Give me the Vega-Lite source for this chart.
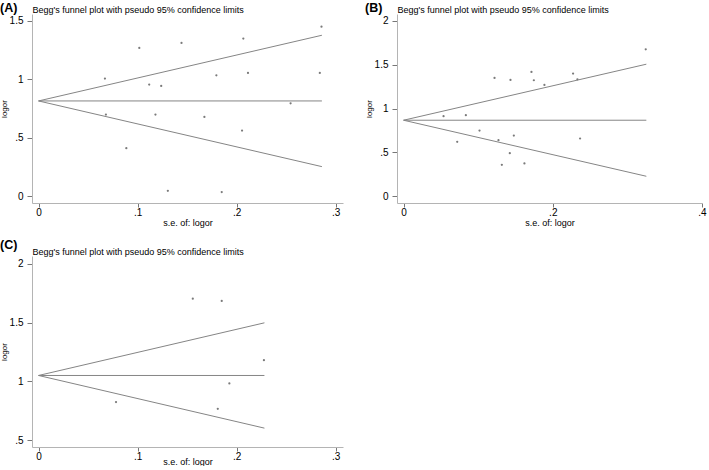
{
  "$schema": "https://vega.github.io/schema/vega-lite/v6.json",
  "padding": {"left": 0, "top": 1, "right": 0, "bottom": 0},
  "background": "white",
  "config": {
    "font": "Liberation Sans",
    "view": {"stroke": null},
    "axis": {
      "grid": false,
      "domainColor": "#b4b4b4",
      "tickColor": "#777777",
      "tickSize": 4,
      "labelFontSize": 10,
      "labelColor": "#000000",
      "labelPadding": 0,
      "labelFlush": false,
      "titleFontWeight": "normal",
      "titleColor": "#000000"
    },
    "axisY": {"tickSize": 5, "labelPadding": 4, "titlePadding": 1},
    "title": {"fontSize": 12.5, "fontWeight": "bold", "anchor": "start", "frame": "bounds", "color": "#000000"}
  },
  "datasets": {
    "a_pts": [
      {"se": 0.067, "logor": 1.006}, {"se": 0.068, "logor": 0.699}, {"se": 0.0886, "logor": 0.412},
      {"se": 0.1017, "logor": 1.267}, {"se": 0.1117, "logor": 0.955}, {"se": 0.118, "logor": 0.699},
      {"se": 0.1238, "logor": 0.943}, {"se": 0.1305, "logor": 0.048}, {"se": 0.1443, "logor": 1.31},
      {"se": 0.1674, "logor": 0.679}, {"se": 0.1795, "logor": 1.034}, {"se": 0.1849, "logor": 0.037},
      {"se": 0.2054, "logor": 0.5625}, {"se": 0.2067, "logor": 1.347}, {"se": 0.2114, "logor": 1.054},
      {"se": 0.2544, "logor": 0.795}, {"se": 0.2839, "logor": 1.054}, {"se": 0.2856, "logor": 1.449}
    ],
    "a_lines": [
      {"line": "upper", "se": 0, "logor": 0.815}, {"line": "upper", "se": 0.286, "logor": 1.3756},
      {"line": "center", "se": 0, "logor": 0.815}, {"line": "center", "se": 0.286, "logor": 0.815},
      {"line": "lower", "se": 0, "logor": 0.815}, {"line": "lower", "se": 0.286, "logor": 0.2544}
    ],
    "b_pts": [
      {"se": 0.0536, "logor": 0.913}, {"se": 0.0719, "logor": 0.621}, {"se": 0.0835, "logor": 0.924},
      {"se": 0.1018, "logor": 0.75}, {"se": 0.1219, "logor": 1.348}, {"se": 0.1272, "logor": 0.64},
      {"se": 0.1317, "logor": 0.36}, {"se": 0.1424, "logor": 0.492}, {"se": 0.1433, "logor": 1.326},
      {"se": 0.1478, "logor": 0.693}, {"se": 0.1714, "logor": 1.417}, {"se": 0.162, "logor": 0.375},
      {"se": 0.1746, "logor": 1.322}, {"se": 0.1888, "logor": 1.269}, {"se": 0.2272, "logor": 1.398},
      {"se": 0.233, "logor": 1.333}, {"se": 0.2366, "logor": 0.659}, {"se": 0.3246, "logor": 1.674}
    ],
    "b_lines": [
      {"line": "upper", "se": 0, "logor": 0.867}, {"line": "upper", "se": 0.3254, "logor": 1.5048},
      {"line": "center", "se": 0, "logor": 0.867}, {"line": "center", "se": 0.3254, "logor": 0.867},
      {"line": "lower", "se": 0, "logor": 0.867}, {"line": "lower", "se": 0.3254, "logor": 0.2292}
    ],
    "c_pts": [
      {"se": 0.0782, "logor": 0.825}, {"se": 0.1557, "logor": 1.703}, {"se": 0.1849, "logor": 1.684},
      {"se": 0.1809, "logor": 0.768}, {"se": 0.1926, "logor": 0.983}, {"se": 0.2275, "logor": 1.181}
    ],
    "c_lines": [
      {"line": "upper", "se": 0, "logor": 1.051}, {"line": "upper", "se": 0.228, "logor": 1.4979},
      {"line": "center", "se": 0, "logor": 1.051}, {"line": "center", "se": 0.228, "logor": 1.051},
      {"line": "lower", "se": 0, "logor": 1.051}, {"line": "lower", "se": 0.228, "logor": 0.6041}
    ]
  },
  "vconcat": [
    {
      "hconcat": [
        {
          "title": {"text": "(A)", "offset": -9},
          "width": 311, "height": 189,
          "resolve": {"axis": {"x": "independent"}},
          "layer": [
            {
              "data": {"name": "a_lines"},
              "mark": {"type": "line", "color": "#858585", "strokeWidth": 1},
              "encoding": {
                "x": {"field": "se", "type": "quantitative", "scale": {"domain": [-0.0066, 0.3073], "nice": false, "zero": false},
                      "axis": {"orient": "top", "domain": false, "ticks": false, "labels": false, "title": "Begg's funnel plot with pseudo 95% confidence limits", "titleAnchor": "start", "titleFontSize": 9, "titlePadding": 0}},
                "y": {"field": "logor", "type": "quantitative", "scale": {"domain": [-0.056, 1.557], "nice": false, "zero": false},
                      "axis": {"values": [0, 0.5, 1, 1.5], "title": "logor", "titleFontSize": 8, "labelExpr": "datum.value > 0 && datum.value < 1 ? slice(toString(datum.value), 1) : toString(datum.value)"}},
                "detail": {"field": "line"}
              }
            },
            {
              "data": {"name": "a_pts"},
              "mark": {"type": "circle", "size": 5, "color": "#7a7a7a", "opacity": 1},
              "encoding": {
                "x": {"field": "se", "type": "quantitative",
                      "axis": {"values": [0, 0.1, 0.2, 0.3], "title": "s.e. of: logor", "titleFontSize": 9, "titlePadding": 1, "labelExpr": "datum.value > 0 && datum.value < 1 ? slice(toString(datum.value), 1) : toString(datum.value)"}},
                "y": {"field": "logor", "type": "quantitative"}
              }
            }
          ]
        },
        {
          "title": {"text": "(B)", "offset": -9},
          "width": 305, "height": 189,
          "resolve": {"axis": {"x": "independent"}},
          "layer": [
            {
              "data": {"name": "b_lines"},
              "mark": {"type": "line", "color": "#858585", "strokeWidth": 1},
              "encoding": {
                "x": {"field": "se", "type": "quantitative", "scale": {"domain": [-0.0088, 0.4], "nice": false, "zero": false},
                      "axis": {"orient": "top", "domain": false, "ticks": false, "labels": false, "title": "Begg's funnel plot with pseudo 95% confidence limits", "titleAnchor": "start", "titleFontSize": 9, "titlePadding": 0}},
                "y": {"field": "logor", "type": "quantitative", "scale": {"domain": [-0.075, 2.076], "nice": false, "zero": false},
                      "axis": {"values": [0, 0.5, 1, 1.5, 2], "title": "logor", "titleFontSize": 8, "labelExpr": "datum.value > 0 && datum.value < 1 ? slice(toString(datum.value), 1) : toString(datum.value)"}},
                "detail": {"field": "line"}
              }
            },
            {
              "data": {"name": "b_pts"},
              "mark": {"type": "circle", "size": 5, "color": "#7a7a7a", "opacity": 1},
              "encoding": {
                "x": {"field": "se", "type": "quantitative",
                      "axis": {"values": [0, 0.2, 0.4], "title": "s.e. of: logor", "titleFontSize": 9, "titlePadding": 1, "labelExpr": "datum.value > 0 && datum.value < 1 ? slice(toString(datum.value), 1) : toString(datum.value)"}},
                "y": {"field": "logor", "type": "quantitative"}
              }
            }
          ]
        }
      ],
      "spacing": 22
    },
    {
      "title": {"text": "(C)", "offset": -4},
      "width": 311, "height": 191,
      "resolve": {"axis": {"x": "independent"}},
      "layer": [
        {
          "data": {"name": "c_lines"},
          "mark": {"type": "line", "color": "#858585", "strokeWidth": 1},
          "encoding": {
            "x": {"field": "se", "type": "quantitative", "scale": {"domain": [-0.0066, 0.3073], "nice": false, "zero": false},
                  "axis": {"orient": "top", "domain": false, "ticks": false, "labels": false, "title": "Begg's funnel plot with pseudo 95% confidence limits", "titleAnchor": "start", "titleFontSize": 9, "titlePadding": 0}},
            "y": {"field": "logor", "type": "quantitative", "scale": {"domain": [0.444, 2.065], "nice": false, "zero": false},
                  "axis": {"values": [0.5, 1, 1.5, 2], "title": "logor", "titleFontSize": 8, "labelExpr": "datum.value > 0 && datum.value < 1 ? slice(toString(datum.value), 1) : toString(datum.value)"}},
            "detail": {"field": "line"}
          }
        },
        {
          "data": {"name": "c_pts"},
          "mark": {"type": "circle", "size": 5, "color": "#7a7a7a", "opacity": 1},
          "encoding": {
            "x": {"field": "se", "type": "quantitative",
                  "axis": {"values": [0, 0.1, 0.2, 0.3], "title": "s.e. of: logor", "titleFontSize": 9, "titlePadding": -4, "labelExpr": "datum.value > 0 && datum.value < 1 ? slice(toString(datum.value), 1) : toString(datum.value)"}},
            "y": {"field": "logor", "type": "quantitative"}
          }
        }
      ]
    }
  ],
  "spacing": 11
}
